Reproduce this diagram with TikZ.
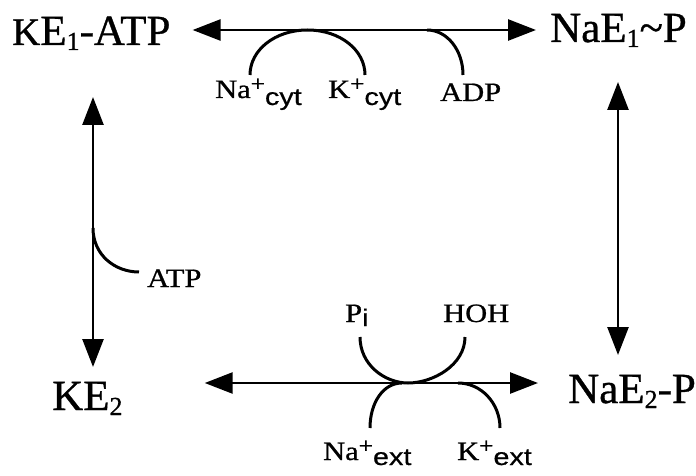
\documentclass[tikz,border=0pt]{standalone}
\usepackage{fontspec}
\setmainfont{Liberation Serif}[FakeBold=0.8]
\newfontfamily\labfont[FakeStretch=1.15,FakeBold=0.8]{Liberation Serif}
\newfontfamily\subsans[FakeStretch=1.2,FakeBold=0.6]{Liberation Sans}
\usetikzlibrary{arrows.meta}
\tikzset{
  big/.style={inner sep=0pt, font=\fontsize{43}{45}\selectfont},
  lab/.style={inner sep=0pt, font=\labfont\fontsize{26.5}{28}\selectfont},
  dbl/.style={line width=2.6pt, {Triangle[length=28pt,width=21pt]}-{Triangle[length=28pt,width=21pt]}},
  curve/.style={line width=3pt}
}
\newcommand{\plusup}{\raisebox{7pt}{\fontsize{22}{22}\selectfont +}}
\newcommand{\sbs}[2]{\raisebox{-#1}{\subsans\fontsize{24}{24}\selectfont #2}}
\newcommand{\bigsub}[1]{\raisebox{-5pt}{\fontsize{26}{26}\selectfont #1}}
\begin{document}
\begin{tikzpicture}[x=1pt,y=-1pt]
\useasboundingbox (0,0) rectangle (696,476);
% states
\node[big, anchor=base west] (kea) at (12,45) {{\fontsize{39}{39}\selectfont K}E\bigsub{1}-ATP};
\node[big, anchor=base west] (nae1) at (550,42) {NaE\bigsub{1}\char`~P};
\node[big, anchor=base west] (ke2) at (52,410) {KE\bigsub{2}};
\node[big, anchor=base west] (nae2) at (568,403) {NaE\bigsub{2}-P};
% labels
\node[lab, anchor=base west] (nacyt) at (215,98) {Na\plusup\sbs{7pt}{cyt}};
\node[lab, anchor=base west] (kcyt) at (328,98) {K\plusup\sbs{7pt}{cyt}};
\node[lab, anchor=base west] (adp) at (440,101) {ADP};
\node[lab, anchor=base west] (atp) at (147,287) {ATP};
\node[lab, anchor=base west] (pi) at (345,322) {P\sbs{4pt}{i}};
\node[lab, anchor=base west] (hoh) at (443,322) {HOH};
\node[lab, anchor=base west] (naext) at (323,460) {Na\plusup\sbs{5pt}{ext}};
\node[lab, anchor=base west] (kext) at (457,460) {K\plusup\sbs{5pt}{ext}};
% reaction arrows
\draw[dbl] ([xshift=22pt,yshift=15pt]kea.base east) -- ([xshift=-14pt,yshift=12pt]nae1.base west);
\draw[dbl] ([xshift=81pt,yshift=-52pt]kea.base west) -- ([xshift=41pt,yshift=43pt]ke2.base west);
\draw[dbl] ([xshift=68pt,yshift=-40pt]nae1.base west) -- ([xshift=50pt,yshift=48pt]nae2.base west);
\draw[dbl] ([xshift=82pt,yshift=27pt]ke2.base east) -- ([xshift=-30pt,yshift=20pt]nae2.base west);
% side curves
\draw[curve] (250,75) .. controls (250,50) and (275,30) .. (307.5,30)
                      .. controls (340,30) and (365,50) .. (365,75);
\draw[curve] (427,30) .. controls (447,30) and (463,50) .. (463,75);
\draw[curve] (93,228) .. controls (93,255) and (115,272) .. (139,272);
\draw[curve] (360,337) .. controls (360,365) and (385,383) .. (408,383)
                       .. controls (433,383) and (465,365) .. (465,337);
\draw[curve] (370,428) .. controls (370,403) and (383,383) .. (402,383);
\draw[curve] (458,383) .. controls (481,383) and (500,403) .. (500,428);
\end{tikzpicture}
\end{document}
